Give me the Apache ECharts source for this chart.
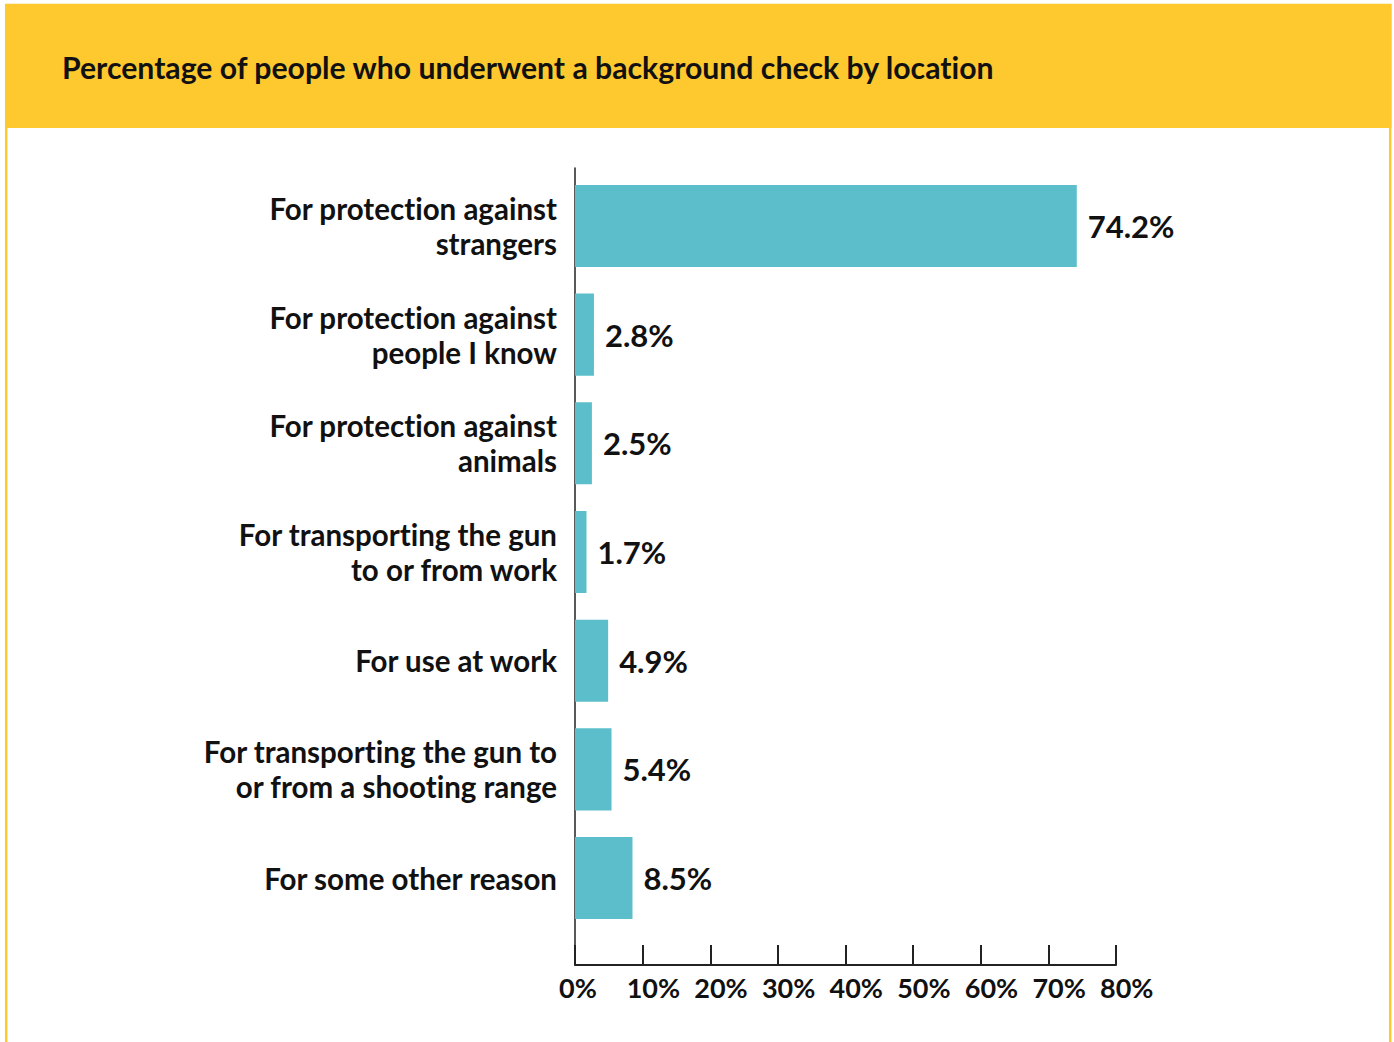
<!DOCTYPE html>
<html>
<head>
<meta charset="utf-8">
<style>
  html, body { margin: 0; padding: 0; background: #ffffff; }
  #chart { width: 1394px; height: 1042px; }
  #chart text { font-variant-ligatures: none; }
</style>
<script src="https://cdn.jsdelivr.net/npm/echarts@6/dist/echarts.min.js"></script>
</head>
<body>
<div id="chart"></div>
<script>
// Reasons for the purchase, top to bottom
const categories = [
  'For protection against\nstrangers',
  'For protection against\npeople I know',
  'For protection against\nanimals',
  'For transporting the gun\nto or from work',
  'For use at work',
  'For transporting the gun to\nor from a shooting range',
  'For some other reason'
];
// Share of respondents, in percent
const values = [74.2, 2.8, 2.5, 1.7, 4.9, 5.4, 8.5];
// Percent axis ticks
const tickValues = [0, 10, 20, 30, 40, 50, 60, 70, 80];

const chartTitle = 'Percentage of people who underwent a background check by location';

const FONT = 'Lato';
const INK = '#111111';
const AXIS = '#222222';
const YELLOW = '#FEC82F';
const TEAL = '#5BBECA';

const chart = echarts.init(document.getElementById('chart'), null, { renderer: 'svg' });

chart.setOption({
  backgroundColor: '#ffffff',
  animation: false,
  textStyle: { fontFamily: FONT },
  graphic: [
    // yellow frame around the panel
    {
      type: 'rect', z: 0,
      shape: { x: 6.2, y: 5, width: 1384, height: 1045 },
      style: { fill: 'none', stroke: YELLOW, lineWidth: 2.5 }
    },
    // header band
    {
      type: 'rect', z: 0,
      shape: { x: 5, y: 4, width: 1386.5, height: 124 },
      style: { fill: YELLOW }
    }
  ],
  title: {
    text: chartTitle,
    left: 62,
    top: 52,
    padding: 0,
    textStyle: { fontFamily: FONT, fontWeight: 'bold', fontSize: 30.2, color: INK }
  },
  grid: [
    // bars
    { left: 575, top: 171.6, width: 541, height: 760.8, containLabel: false },
    // full-height vertical axis line down to the percent axis
    { left: 575, top: 168, width: 541, height: 797, containLabel: false }
  ],
  xAxis: [
    {
      gridIndex: 0,
      type: 'value',
      min: tickValues[0],
      max: tickValues[tickValues.length - 1],
      interval: 10,
      position: 'bottom',
      offset: 32.6,
      axisLine: { show: true, lineStyle: { color: AXIS, width: 2 } },
      axisTick: { show: true, inside: true, length: 20, lineStyle: { color: AXIS, width: 2 } },
      splitLine: { show: false },
      axisLabel: {
        margin: 9,
        formatter: function (v) { return '{t|' + v + '%}'; },
        rich: {
          t: { width: 32, align: 'left', fontFamily: FONT, fontWeight: 'bold', fontSize: 27, color: INK }
        }
      }
    },
    { gridIndex: 1, type: 'value', show: false, min: 0, max: 1 }
  ],
  yAxis: [
    {
      gridIndex: 0,
      type: 'category',
      data: categories,
      inverse: true,
      axisLine: { show: false },
      axisTick: { show: false },
      axisLabel: {
        margin: 18,
        fontFamily: FONT,
        fontWeight: 'bold',
        fontSize: 29.5,
        lineHeight: 35,
        color: INK,
        align: 'right'
      }
    },
    {
      gridIndex: 1,
      type: 'value',
      min: 0, max: 1,
      axisLine: { show: true, lineStyle: { color: AXIS, width: 1.5 } },
      axisTick: { show: false },
      axisLabel: { show: false },
      splitLine: { show: false }
    }
  ],
  series: [
    {
      type: 'bar',
      xAxisIndex: 0,
      yAxisIndex: 0,
      data: values,
      barCategoryGap: '24.5%',
      itemStyle: { color: TEAL },
      label: {
        show: true,
        position: 'right',
        distance: 11,
        formatter: '{c}%',
        fontFamily: FONT,
        fontWeight: 'bold',
        fontSize: 31,
        color: INK
      },
      z: 3
    }
  ]
});
</script>
</body>
</html>
